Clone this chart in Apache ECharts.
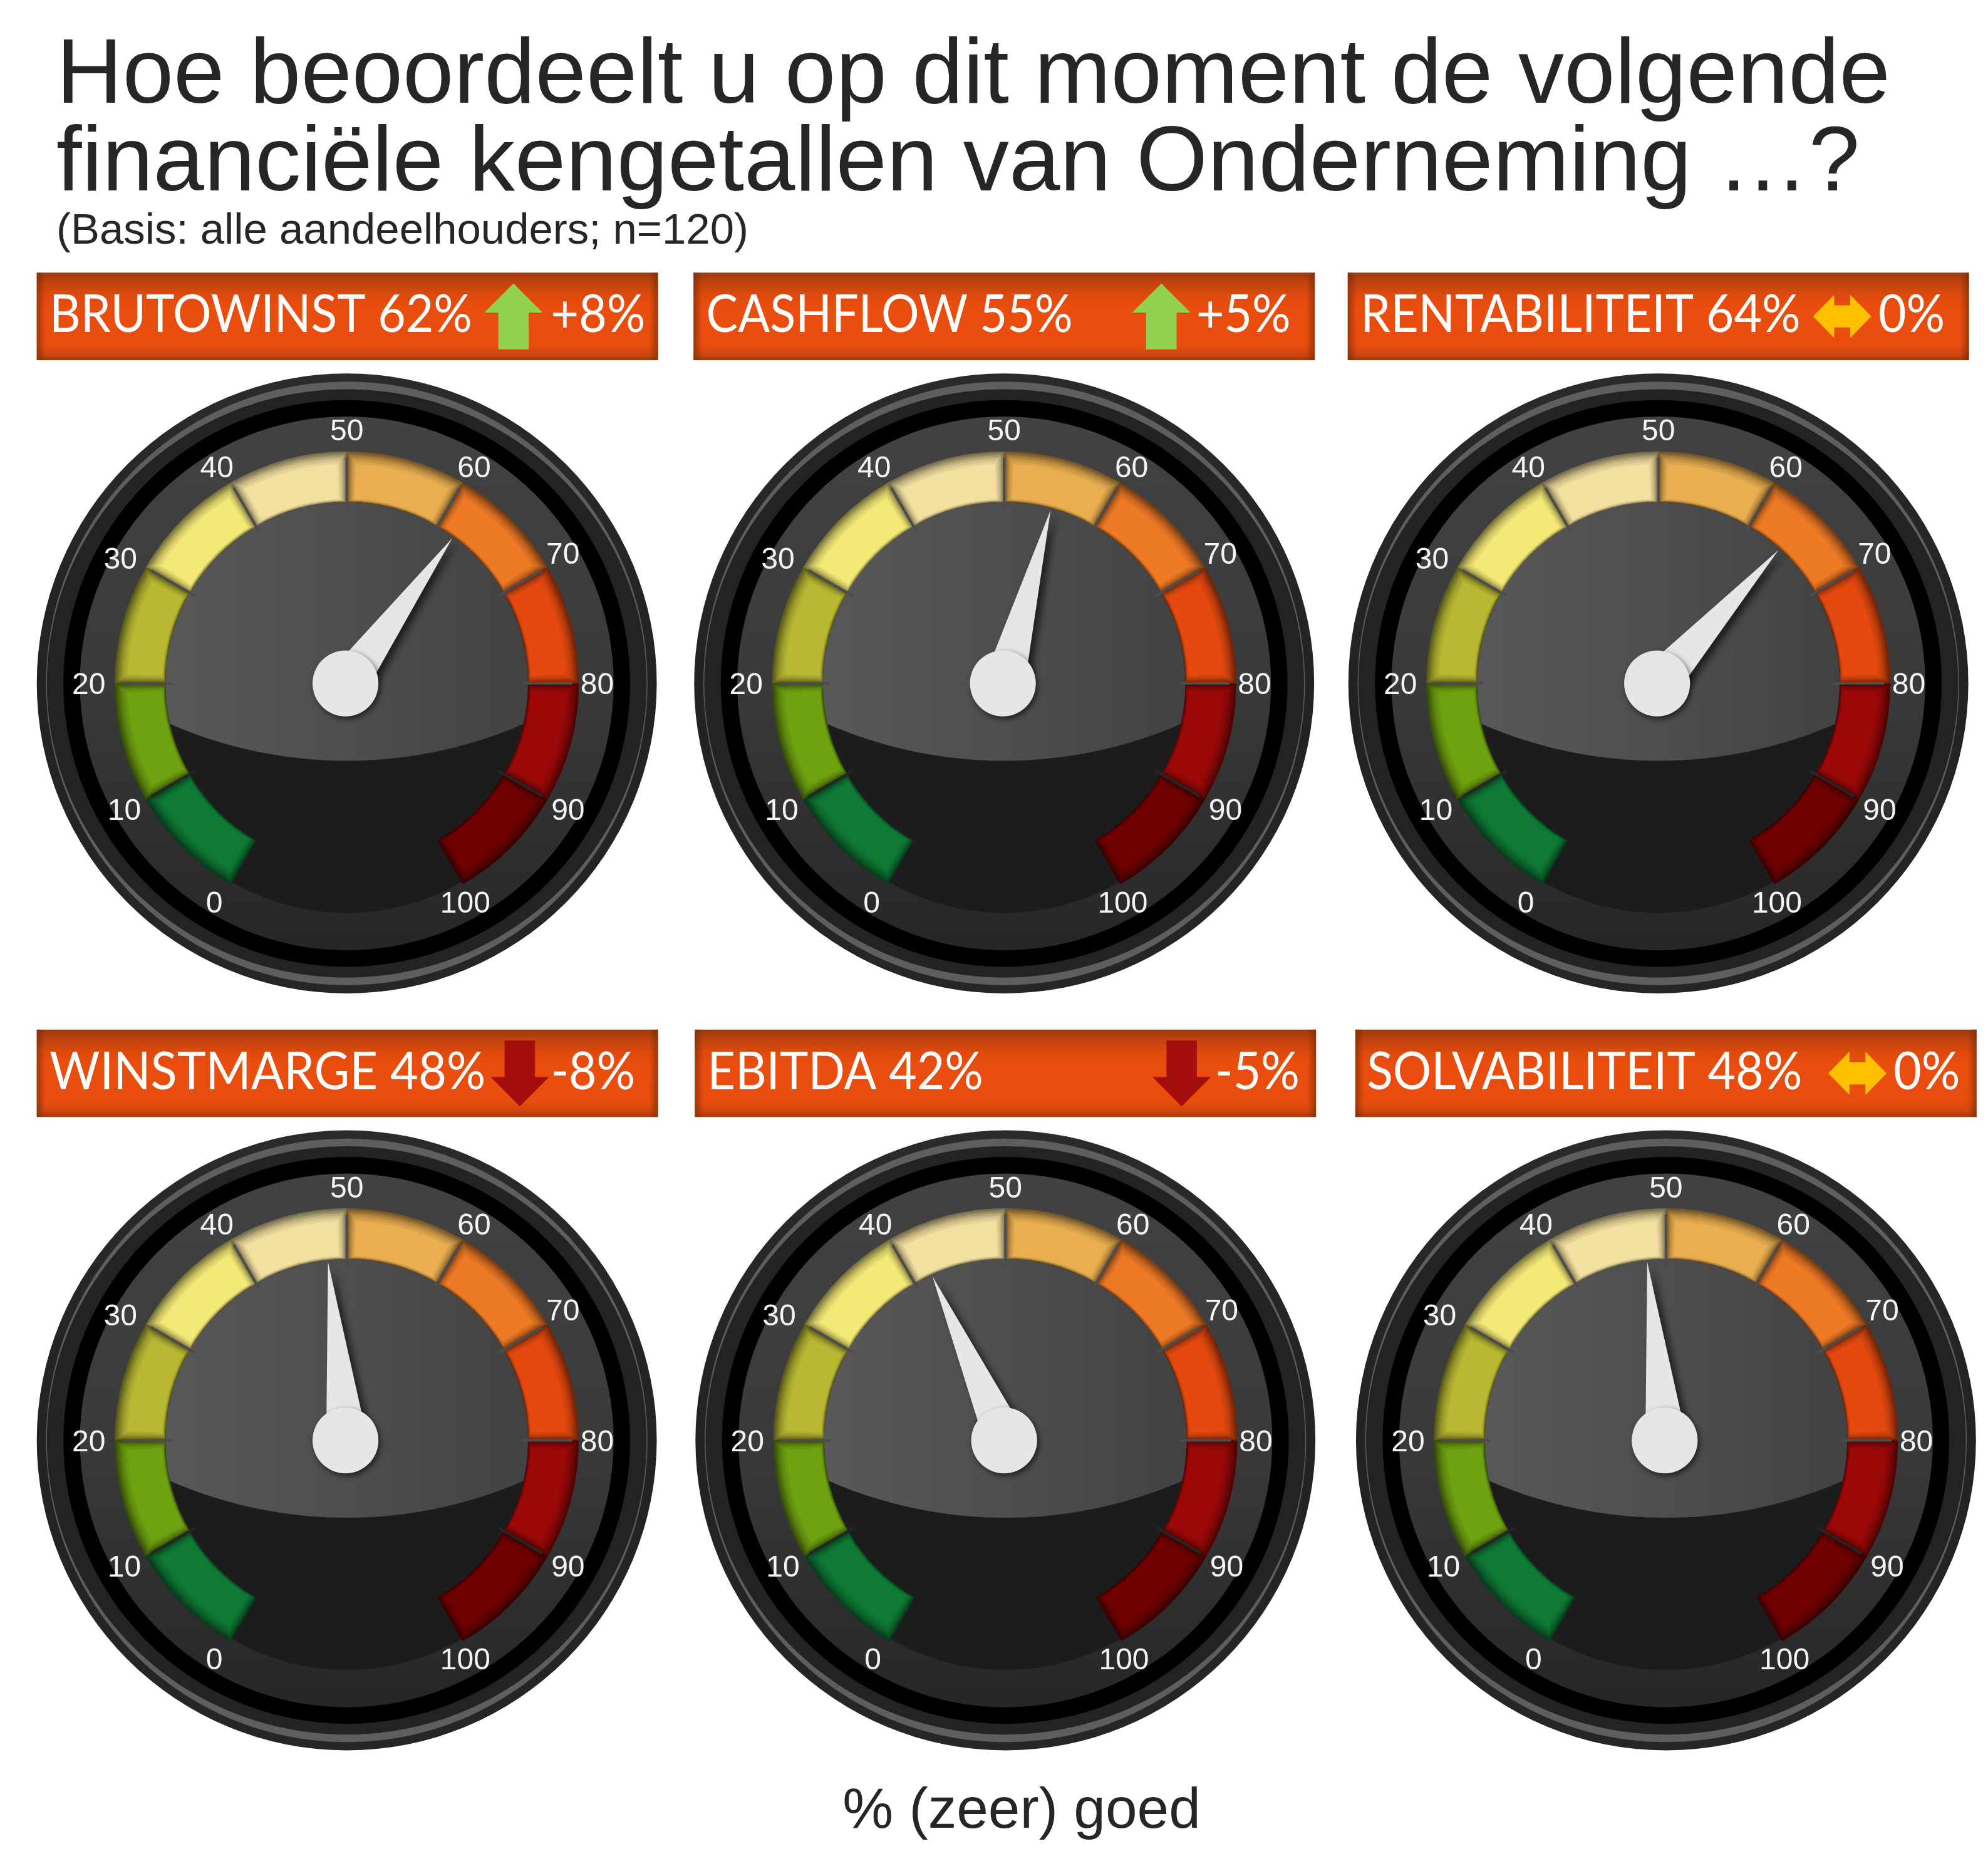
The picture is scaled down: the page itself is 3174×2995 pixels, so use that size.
<!DOCTYPE html>
<html><head><meta charset="utf-8">
<style>html,body{margin:0;padding:0;background:#fff}#c{width:3174px;height:2995px}</style>
<script src="https://cdn.jsdelivr.net/npm/echarts@6/dist/echarts.min.js"></script>
</head><body><div id="c"></div>
<script>
// ---- data ----
const names = ['BRUTOWINST','CASHFLOW','RENTABILITEIT','WINSTMARGE','EBITDA','SOLVABILITEIT'];
const values = [62,55,64,48,42,48];
const changes = [8,5,0,-8,-5,0];
const titleText = 'Hoe beoordeelt u op dit moment de volgende\nfinanciële kengetallen van Onderneming …?';
const subtitleText = '(Basis: alle aandeelhouders; n=120)';
const footerText = '% (zeer) goed';
const bandColors = ['#0E7A35','#6FA210','#B8B833','#F4E977','#F3E0A0','#E9AE50','#EE7A25','#E5490F','#9A0808','#6F0000'];

// ---- layout (real pixels) ----
const k = 3174/1568;
const centers = [[273.5,539],[792,539],[1308,539],[273.5,1136],[793,1136],[1314,1136]].map(p=>[p[0]*k,p[1]*k]);
const bars = [[29,215],[547,215],[1063,215],[29,812],[548,812],[1069,812]].map(p=>[p[0]*k,p[1]*k]);
const barW = 490*k, barH = 69*k;
const textLeft = [39,557,1073,39,558,1078].map(v=>v*k);
const deltaRight = [509,1018,1534,501,1025,1546].map(v=>v*k);
const arrowX = [405,916,1453,410,932,1465].map(v=>v*k);
// where each scale number sits relative to the gauge centre (the picture's own placement is not a perfect circle)
const labelPlace = {0:[-104.5,174],10:[-175.5,101],20:[-203.5,2],30:[-178.5,-97],40:[-102.5,-169],50:[0,-198],60:[100.5,-169],70:[170.5,-101],80:[197.5,2],90:[174.5,101],100:[93.5,174]};
const FONT='"Liberation Sans",Arial,sans-serif';
const HEAD='Lato,"Open Sans",sans-serif';
const HEAD_SIZE=84, HEAD_SX=[0.915,0.90,0.915,0.925,0.915,0.915];
const LABEL_SIZE=48, LABEL_RA=240*k, LABEL_H=LABEL_SIZE*1.0;

function mix(hex,f){const n=parseInt(hex.slice(1),16);const r=(n>>16)&255,g=(n>>8)&255,b=n&255;
 return `rgb(${Math.round(r*f)},${Math.round(g*f)},${Math.round(b*f)})`;}

const graphics=[];
function gaugeBack(c){
 const [cx,cy]=c;
 const circ=(r,fill,z)=>graphics.push({type:'circle',silent:true,z:z,shape:{cx,cy,r:r*k},style:{fill}});
 const lin=(x,y,x2,y2,stops)=>({type:'linear',x,y,x2,y2,colorStops:stops.map((s,i)=>({offset:i/(stops.length-1),color:s}))});
 circ(244.5,lin(0,0,0,1,['#2b2b2b','#222222','#262626']),0);
 graphics.push({type:'ellipse',silent:true,z:0,shape:{cx,cy,rx:237.2*k,ry:238*k},style:{fill:'#5e5e5e'}});
 graphics.push({type:'ellipse',silent:true,z:0,shape:{cx,cy,rx:236.5*k,ry:232*k},style:{fill:'#232323'}});
 circ(223.5,'#000000',0);
 circ(210.5,lin(0,0,0,1,['#424242','#3a3a3a','#262626']),0);
 circ(181,'#1c1c1c',0);
 // lit face
 const pts=[],R=143*k;
 const a0=Math.asin(32/143);
 for(let i=0;i<=80;i++){const a=-a0+(Math.PI+2*a0)*i/80;pts.push([cx+R*Math.cos(a),cy-R*Math.sin(a)]);}
 const Rb=349.5*k,by=cy-288.5*k;
 const bHalf=Math.asin(139.4/349.5);
 for(let i=0;i<=40;i++){const a=-bHalf+2*bHalf*i/40;pts.push([cx+Rb*Math.sin(a),by+Rb*Math.cos(a)]);}
 graphics.push({type:'polygon',silent:true,z:0,shape:{points:pts},style:{fill:lin(0,0,1,0,['#585858','#4e4e4e','#424242'])}});
}
function header(i){
 const [x,y]=bars[i];
 graphics.push({type:'rect',silent:true,z:3,shape:{x,y,width:barW,height:barH},
  style:{fill:{type:'linear',x:0,y:0,x2:0,y2:1,colorStops:[
   {offset:0,color:'#9c390c'},{offset:.12,color:'#c2440e'},{offset:.27,color:'#e04a0e'},{offset:.4,color:'#ea4e0e'},
   {offset:.82,color:'#e84d0e'},{offset:.94,color:'#cc460e'},{offset:1,color:'#a23c0c'}]}}});
 const e=7*k;
 const side=(sx,x0,x1)=>graphics.push({type:'rect',silent:true,z:3,shape:{x:sx,y,width:e,height:barH},
  style:{fill:{type:'linear',x:x0,y:0,x2:x1,y2:0,colorStops:[{offset:0,color:'rgba(110,40,5,0.6)'},{offset:1,color:'rgba(110,40,5,0)'}]}}});
 side(x,0,1); side(x+barW-e,1,0);
 const cy=y+barH/2-1*k;
 graphics.push({type:'text',silent:true,z:4,x:textLeft[i],y:cy,scaleX:HEAD_SX[i],
   style:{text:names[i]+' '+values[i]+'%',font:`${HEAD_SIZE}px ${HEAD}`,fill:'#fff',textAlign:'left',textVerticalAlign:'middle'}});
 const d=changes[i];
 graphics.push({type:'text',silent:true,z:4,x:deltaRight[i],y:cy,scaleX:0.915,
   style:{text:(d>0?'+':'')+d+'%',font:`${HEAD_SIZE}px ${HEAD}`,fill:'#fff',textAlign:'right',textVerticalAlign:'middle'}});
 // arrow
 const ax=arrowX[i],ay=y+barH/2;
 let pts,fill;
 if(d>0){fill='#92D050';pts=[[0,-26],[23,-3],[12,-3],[12,26],[-12,26],[-12,-3],[-23,-3]];}
 else if(d<0){fill='#A50E0E';pts=[[0,26],[23,3],[12,3],[12,-26],[-12,-26],[-12,3],[-23,3]];}
 else{fill='#FFC000';pts=[[-23,0],[-6.3,-17],[-6.3,-8.7],[6.3,-8.7],[6.3,-17],[23,0],[6.3,17],[6.3,8.7],[-6.3,8.7],[-6.3,17]];}
 graphics.push({type:'polygon',silent:true,z:4,shape:{points:pts.map(p=>[ax+p[0]*k,ay+p[1]*k])},style:{fill}});
}

// The gauge forces each tick label's alignment by its angle (left, centre or right; top, middle or bottom),
// so spacer tokens and vertical padding move each number from the tick anchor to its place in the picture.
const rich={}, labelFmt={};
Object.keys(labelPlace).forEach(v=>{
 const val=+v, ang=(240-3*val)*Math.PI/180;
 const ux=Math.cos(ang), uy=-Math.sin(ang);
 const ax=LABEL_RA*ux, ay=LABEL_RA*uy;
 const tx=labelPlace[v][0]*k, ty=labelPlace[v][1]*k;
 const w=String(val).length*0.556*LABEL_SIZE;
 const h=LABEL_H;
 let pad=[0,0,0,0], sp=0, side='none';
 if(ux<-0.4){sp=(tx-w/2)-ax;side='left';}
 else if(ux>0.4){sp=ax-(tx+w/2);side='right';}
 if(uy<-0.8){pad[0]=Math.max((ty-h/2)-ay,0);}
 else if(uy>0.8){pad[2]=Math.max(ay-(ty+h/2),0);}
 else{const s=(ty-ay)*2; if(s>0)pad[0]=s; else pad[2]=-s;}
 rich['t'+v]={color:'#f4f4f4',fontSize:LABEL_SIZE,fontFamily:FONT,padding:pad};
 rich['s'+v]={width:Math.max(sp,0),fontSize:1};
 const tok=`{t${v}|${v}}`, spc=`{s${v}| }`;
 labelFmt[v]=side==='left'?spc+tok:side==='right'?tok+spc:tok;
});

const series=[];
const off={show:false};
function baseGauge(c,o){return Object.assign({type:'gauge',center:c,startAngle:240,endAngle:-60,min:0,max:100,splitNumber:10,silent:true,animation:false,
  radius:183*k,pointer:off,progress:off,anchor:off,axisTick:off,axisLabel:off,splitLine:off,title:off,detail:off,data:[],axisLine:off},o);}
const insets=[0,3,6,9,12,16,20], shades=[.5,.6,.7,.79,.87,.94,1];
function gauge(i){
 const c=centers[i], R=183*k, W=40*k;
 insets.forEach((d,j)=>{
  const g=(d*0.7)/1728, stops=[];
  bandColors.forEach((col,n)=>{stops.push([n/10+g,'rgba(0,0,0,0)']);stops.push([(n+1)/10-g,mix(col,shades[j])]);});
  stops.push([1,'rgba(0,0,0,0)']);
  series.push(baseGauge(c,{radius:R-d,z:2,axisLine:{show:true,lineStyle:{width:W-d*1.25,color:stops}}}));
 });
 // separators
 series.push(baseGauge(c,{startAngle:210,endAngle:-30,splitNumber:1,z:3,
   splitLine:{show:true,distance:0,length:W,lineStyle:{color:'#262626',width:4}}}));
 series.push(baseGauge(c,{startAngle:180,endAngle:0,splitNumber:6,z:3,
   splitLine:{show:true,distance:0,length:W,lineStyle:{color:'#4c4c4c',width:4}}}));
 // scale and needle
 series.push(baseGauge(c,{z:5,name:names[i],
   radius:LABEL_RA+19,
   axisLine:{show:true,lineStyle:{width:1,color:[[1,'rgba(0,0,0,0)']]}},
   axisLabel:{show:true,distance:-1,color:'#f4f4f4',fontSize:LABEL_SIZE,fontFamily:FONT,
     formatter:v=>labelFmt[v],rich},
   pointer:{show:true,icon:'triangle',length:141.5*k,width:32.6*k,offsetCenter:[0,0],
     itemStyle:{color:'#e6e6e6',shadowColor:'rgba(0,0,0,0.6)',shadowBlur:12,shadowOffsetX:8,shadowOffsetY:6}},
   anchor:{show:true,showAbove:true,size:52*k,offsetCenter:[-1*k,0],itemStyle:{color:'#e6e6e6',shadowColor:'rgba(0,0,0,0.6)',shadowBlur:10,shadowOffsetX:3,shadowOffsetY:4}},
   data:[{value:values[i]}]}));
}
centers.forEach(gaugeBack);
names.forEach((n,i)=>{header(i);gauge(i);});

const chart=echarts.init(document.getElementById('c'),null,{renderer:'canvas'});
chart.setOption({
 animation:false,backgroundColor:'#ffffff',
 title:[
  {text:titleText,left:85,top:49,textStyle:{fontFamily:FONT,fontWeight:'normal',fontSize:146.3,lineHeight:140,color:'#262626'}},
  {text:subtitleText,left:85,top:330,textStyle:{fontFamily:FONT,fontWeight:'normal',fontSize:68.9,color:'#262626'}},
  {text:footerText,left:1626,top:2842,textAlign:'center',textStyle:{fontFamily:FONT,fontWeight:'normal',fontSize:91,color:'#262626'}}
 ],
 graphic:{elements:graphics},
 series
});
</script></body></html>
